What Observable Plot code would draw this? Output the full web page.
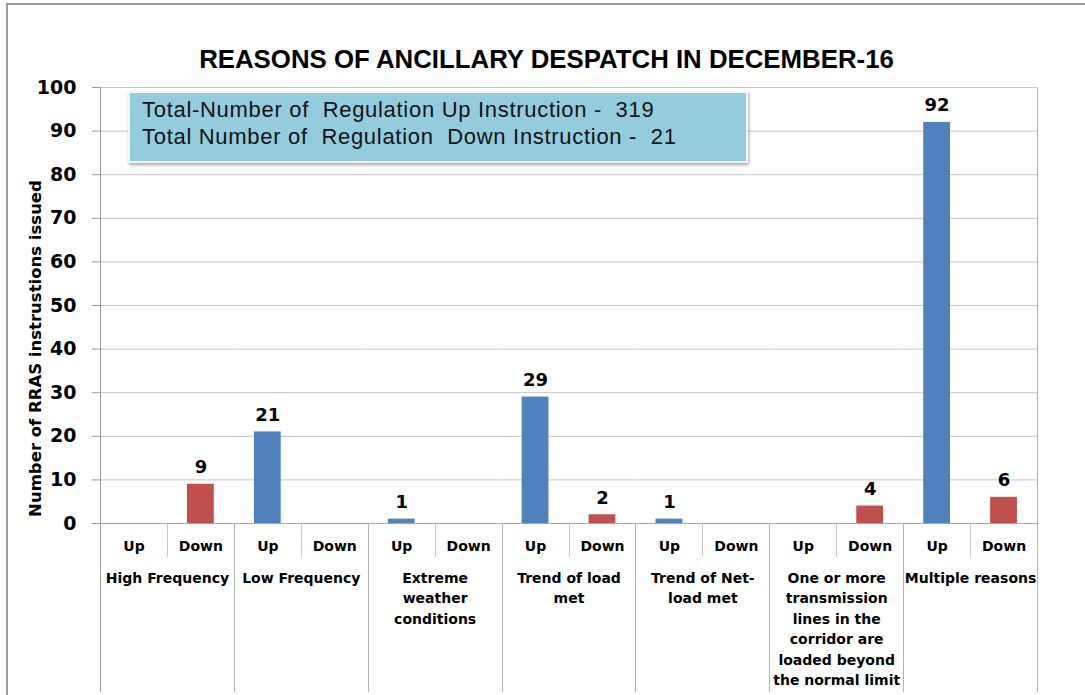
<!DOCTYPE html>
<html>
<head>
<meta charset="utf-8">
<script src="https://cdn.jsdelivr.net/npm/d3@7"></script>
<script src="https://cdn.jsdelivr.net/npm/@observablehq/plot@0.6"></script>
<style>
  body { margin: 0; background: #fff; }
  #wrap { position: relative; width: 1085px; height: 695px; overflow: hidden; background: #fff; }
  #border { position: absolute; left: 6px; top: 3px; width: 1200px; height: 800px;
            border-left: 2px solid #9b9b9b; border-top: 2px solid #9b9b9b; pointer-events: none; }
  #title { position: absolute; left: 0; top: 45px; width: 1093px; text-align: center;
           font-family: "Liberation Sans", Arial, sans-serif; font-weight: bold; font-size: 25.8px; color: #000; }
  #box { position: absolute; left: 128px; top: 91px; width: 620px; height: 72px; box-sizing: border-box;
         background: #93CDDD; border: 2px solid #f4f8fb; box-shadow: 1px 2px 3px rgba(0,0,0,0.35);
         font-family: "Liberation Sans", Arial, sans-serif; font-size: 22px; letter-spacing: 0.7px; color: #111;
         padding: 3px 0 0 12px; line-height: 27px; white-space: pre; }
  #wrap svg { position: absolute; left: 0; top: 0; }
</style>
</head>
<body>
<div id="wrap"></div>
<script>
const titleText = "REASONS OF ANCILLARY DESPATCH IN DECEMBER-16";
const boxLines = ["Total-Number of  Regulation Up Instruction -  319",
                  "Total Number of  Regulation  Down Instruction -  21"];
const yLabel = "Number of RRAS instrustions issued";

const groups = [
  "High Frequency",
  "Low Frequency",
  "Extreme weather conditions",
  "Trend of load met",
  "Trend of Net-load met",
  "One or more transmission lines in the corridor are loaded beyond the normal limit",
  "Multiple reasons"
];
const groupLabels = [
  "High Frequency",
  "Low Frequency",
  "Extreme\nweather\nconditions",
  "Trend of load\nmet",
  "Trend of Net-\nload met",
  "One or more\ntransmission\nlines in the\ncorridor are\nloaded beyond\nthe normal limit",
  "Multiple reasons"
];
const directions = ["Up", "Down"];
const upValues   = [0, 21, 1, 29, 1, 0, 92];
const downValues = [9, 0, 0, 2, 0, 4, 6];
const yTicks = [0, 10, 20, 30, 40, 50, 60, 70, 80, 90, 100];
const colors = ["#4F81BD", "#C0504D"];

const data = groups.flatMap((g, i) => [
  {group: g, dir: "Up", value: upValues[i]},
  {group: g, dir: "Down", value: downValues[i]}
]);

const plot = Plot.plot({
  width: 1085,
  height: 695,
  marginLeft: 100,
  marginRight: 48,
  marginTop: 87,
  marginBottom: 172,
  style: {fontFamily: "DejaVu Sans", background: "transparent", overflow: "visible"},
  fx: {domain: groups, padding: 0, round: false, label: null},
  x: {domain: directions, paddingInner: 0.6, paddingOuter: 0.3, round: false, label: null},
  y: {domain: [0, 100], label: null},
  color: {domain: directions, range: colors},
  marks: [
    Plot.gridY(yTicks, {stroke: "#c4c4c4", strokeOpacity: 1}),
    Plot.barY(data, {fx: "group", x: "dir", y: "value", fill: "dir"}),
    Plot.text(data.filter(d => d.value > 0), {
      fx: "group", x: "dir", y: "value", text: d => String(d.value),
      dy: -11, lineAnchor: "bottom", fontSize: 18, fontWeight: "bold", fill: "#000"
    }),
    Plot.axisY({ticks: yTicks, tickSize: 8, tickPadding: 16, fontSize: 19, fontWeight: "bold",
                stroke: "#9a9a9a", fill: "#000", label: null}),
    Plot.axisX({tickSize: 0, tickPadding: 18, fontSize: 14, fontWeight: "bold", fill: "#000", label: null}),
    Plot.axisFx({anchor: "bottom", tickSize: 0, tickPadding: 45, fontSize: 14, fontWeight: "bold",
                 lineHeight: 1.46, fill: "#000", label: null,
                 tickFormat: g => groupLabels[groups.indexOf(g)]}),
    Plot.text([yLabel], {fx: () => groups[0], frameAnchor: "left", textAnchor: "middle", lineAnchor: "middle",
                         rotate: -90, dx: -65, dy: 43,
                         fontSize: 16.5, fontWeight: "bold", fill: "#000", text: d => d})
  ]
});

const wrap = document.getElementById("wrap");
wrap.appendChild(plot);

// separators of the category table, placed through the plot's own scales
const fxs = plot.scale("fx");
const ys = plot.scale("y");
const y0 = ys.apply(0), yTop = ys.apply(100);
const yBottom = 692;
const svg = d3.select(plot);
const g = svg.append("g").attr("shape-rendering", "crispEdges");
const lefts = groups.map(d => fxs.apply(d));
const rightEdge = lefts[lefts.length - 1] + fxs.bandwidth;
groups.forEach(d => {
  const xm = Math.round(fxs.apply(d) + fxs.bandwidth / 2) + 0.5;
  g.append("line").attr("x1", xm).attr("x2", xm).attr("y1", y0).attr("y2", y0 + 34)
    .attr("stroke", "#c8c8c8");
});
lefts.slice(1).forEach(x => {
  const xx = Math.round(x) + 0.5;
  g.append("line").attr("x1", xx).attr("x2", xx).attr("y1", y0).attr("y2", yBottom)
    .attr("stroke", "#b4b4b4");
});
const xl = Math.round(lefts[0]) + 0.5;
g.append("line").attr("x1", xl).attr("x2", xl).attr("y1", yTop).attr("y2", yBottom).attr("stroke", "#9a9a9a");
const xr = Math.round(rightEdge) + 0.5;
g.append("line").attr("x1", xr).attr("x2", xr).attr("y1", yTop).attr("y2", y0).attr("stroke", "#9fb8dc");
g.append("line").attr("x1", xr).attr("x2", xr).attr("y1", y0).attr("y2", yBottom).attr("stroke", "#b4b4b4");
g.append("line").attr("x1", xl).attr("x2", xr).attr("y1", Math.round(yTop) + 0.5).attr("y2", Math.round(yTop) + 0.5)
  .attr("stroke", "#b8cbe4");
g.append("line").attr("x1", xl).attr("x2", xr).attr("y1", Math.round(y0) + 0.5).attr("y2", Math.round(y0) + 0.5)
  .attr("stroke", "#a8a8a8");

const border = document.createElement("div");
border.id = "border";
wrap.appendChild(border);

const title = document.createElement("div");
title.id = "title";
title.textContent = titleText;
wrap.appendChild(title);

const box = document.createElement("div");
box.id = "box";
box.textContent = boxLines.join("\n");
wrap.appendChild(box);
</script>
</body>
</html>
